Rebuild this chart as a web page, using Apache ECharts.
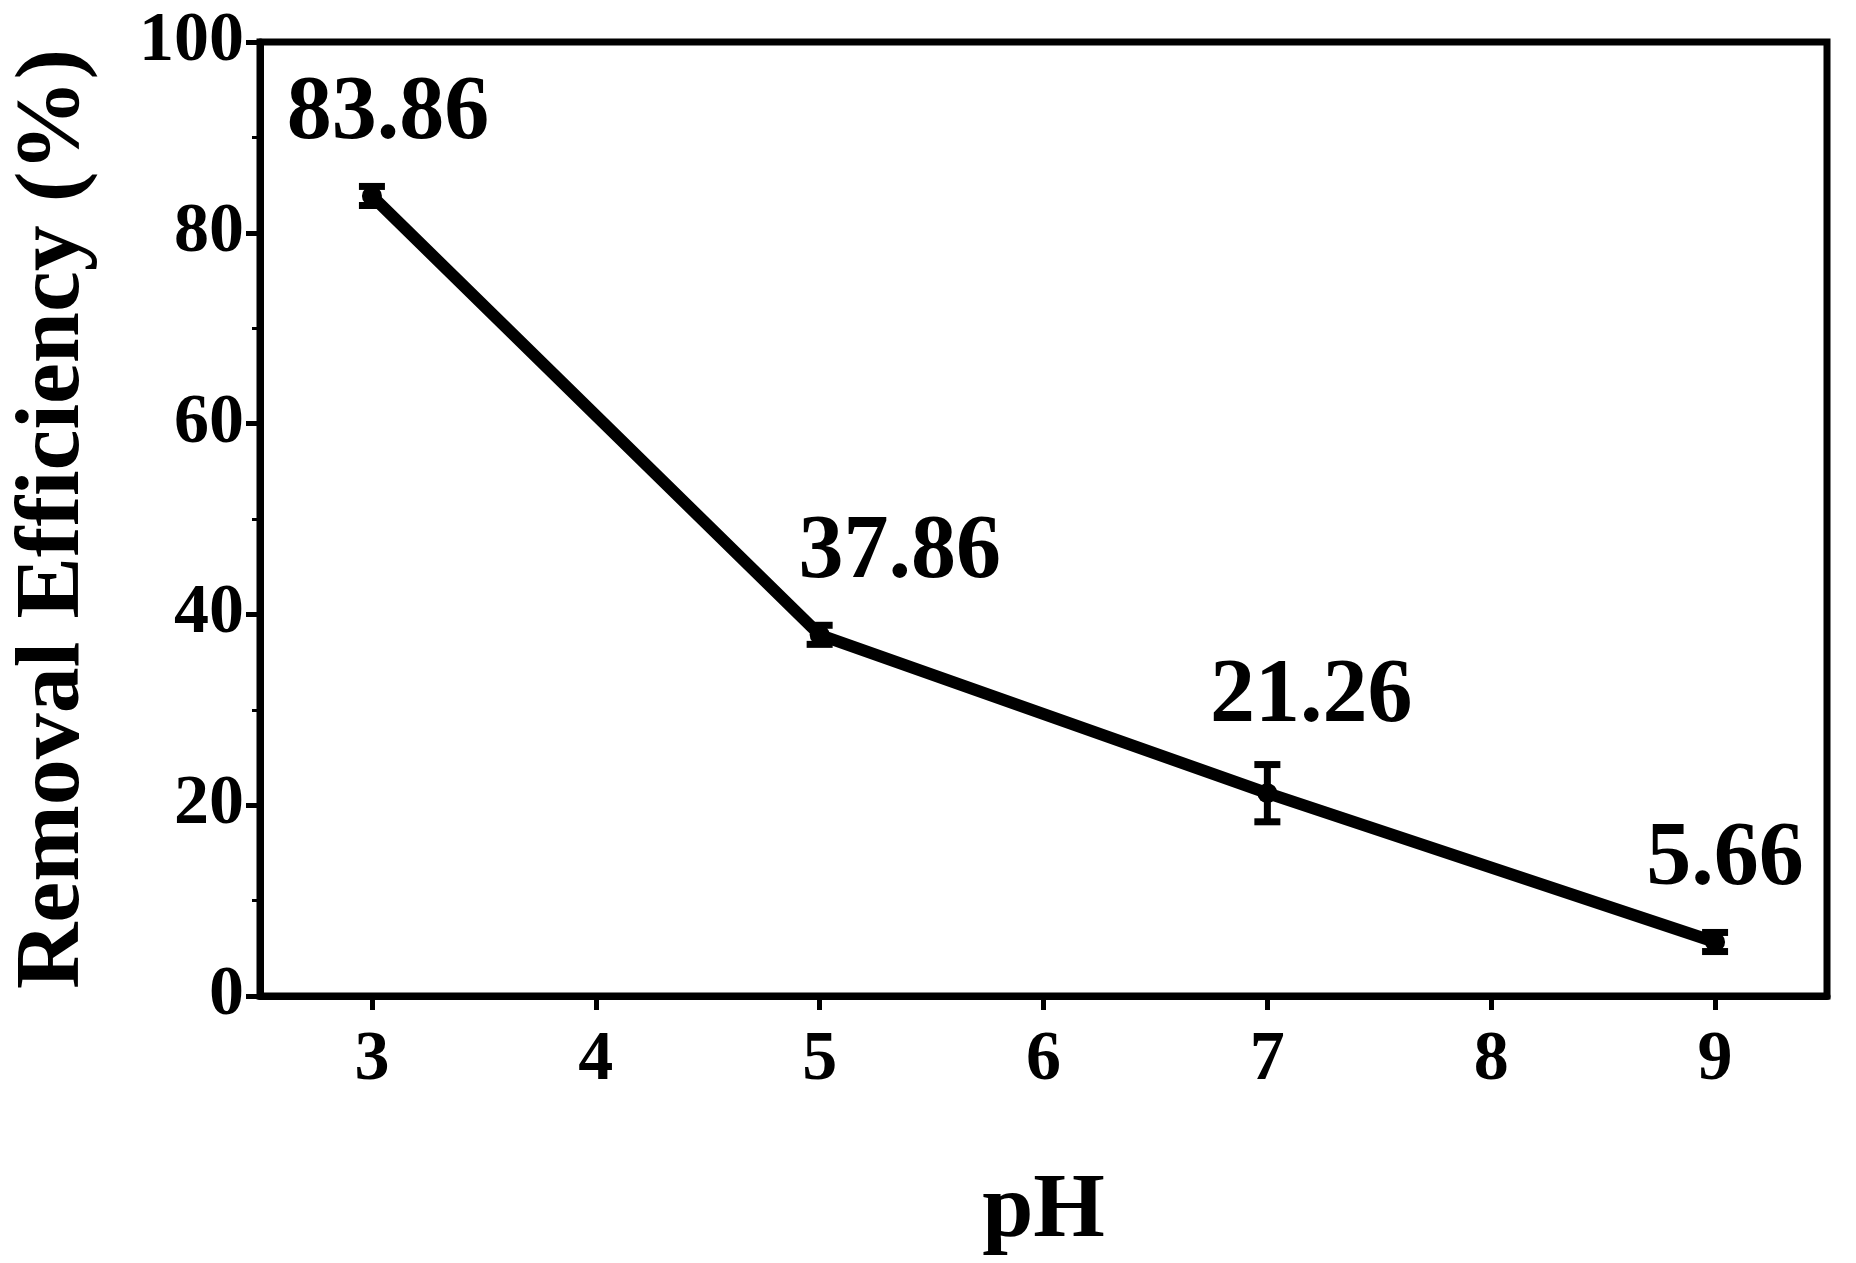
<!DOCTYPE html>
<html>
<head>
<meta charset="utf-8">
<script src="https://cdn.jsdelivr.net/npm/echarts@6/dist/echarts.min.js"></script>
<style>html,body{margin:0;background:#fff}#main{width:1856px;height:1263px}</style>
</head>
<body>
<div id="main"></div>
<script>
// data
var phValues = [3, 5, 7, 9];
var removal = [83.86, 37.86, 21.26, 5.66];
var errors = [1.0, 1.0, 3.0, 1.0];
var xTicks = [3, 4, 5, 6, 7, 8, 9];

// label placement (style only)
var labelOffsets = [[16, 0], [80, 0], [44, -14], [10, 0]];

var font = 'Liberation Serif';
var chart = echarts.init(document.getElementById('main'));

var lineData = phValues.map(function (x, i) {
    return { value: [x, removal[i]], label: { offset: labelOffsets[i] } };
});
var errData = phValues.map(function (x, i) { return [x, removal[i] - errors[i], removal[i] + errors[i]]; });

var labelStyle = { color: '#000', fontFamily: font, fontWeight: 'bold', fontSize: 70 };

chart.setOption({
    animation: false,
    grid: { left: 244, right: 29, top: 42, bottom: 243, show: true, borderColor: '#000', borderWidth: 7 },
    xAxis: {
        type: 'value', min: 2.5, max: 9.5,
        name: 'pH', nameLocation: 'middle', nameGap: 170,
        nameTextStyle: { color: '#000', fontFamily: font, fontWeight: 'bold', fontSize: 92 },
        axisLine: { show: true, onZero: false, lineStyle: { color: '#000', width: 7 } },
        axisTick: { show: true, length: 14, lineStyle: { color: '#000', width: 5 }, customValues: xTicks },
        axisLabel: Object.assign({ margin: 30, customValues: xTicks }, labelStyle),
        splitLine: { show: false }
    },
    yAxis: {
        type: 'value', min: 0, max: 100, interval: 20,
        name: 'Removal Efficiency (%)', nameLocation: 'middle', nameGap: 160,
        nameTextStyle: { color: '#000', fontFamily: font, fontWeight: 'bold', fontSize: 92 },
        axisLine: { show: true, onZero: false, lineStyle: { color: '#000', width: 7 } },
        axisTick: { show: true, length: 14, lineStyle: { color: '#000', width: 5 } },
        minorTick: { show: true, splitNumber: 2, length: 8, lineStyle: { color: '#000', width: 3 } },
        axisLabel: Object.assign({ margin: 16 }, labelStyle),
        splitLine: { show: false }
    },
    series: [{
        type: 'line',
        data: lineData,
        symbol: 'circle',
        symbolSize: 20,
        lineStyle: { color: '#000', width: 12 },
        itemStyle: { color: '#000' },
        label: {
            show: true, position: 'top', distance: 26,
            color: '#000', fontFamily: font, fontWeight: 'bold', fontSize: 90,
            formatter: function (p) { return p.value[1].toFixed(2); }
        },
        z: 3
    }, {
        type: 'custom',
        data: errData,
        renderItem: function (params, api) {
            var x = api.value(0);
            var lo = api.coord([x, api.value(1)]);
            var hi = api.coord([x, api.value(2)]);
            var w = 13;
            var st = { stroke: '#000', lineWidth: 7 };
            return {
                type: 'group',
                children: [
                    { type: 'line', shape: { x1: lo[0], y1: lo[1], x2: hi[0], y2: hi[1] }, style: st },
                    { type: 'line', shape: { x1: lo[0] - w, y1: lo[1], x2: lo[0] + w, y2: lo[1] }, style: st },
                    { type: 'line', shape: { x1: hi[0] - w, y1: hi[1], x2: hi[0] + w, y2: hi[1] }, style: st }
                ]
            };
        },
        z: 4
    }]
});
</script>
</body>
</html>
